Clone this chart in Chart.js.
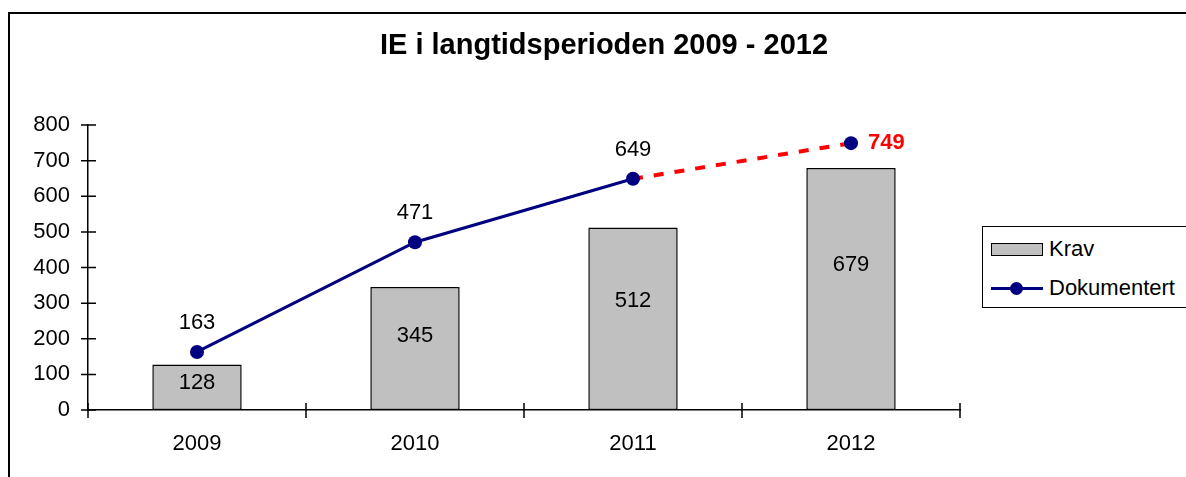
<!DOCTYPE html>
<html>
<head>
<meta charset="utf-8">
<script src="https://cdn.jsdelivr.net/npm/chart.js@4.4.1/dist/chart.umd.min.js"></script>
<style>
  body { margin: 0; background: #fff; font-family: "Liberation Sans", Arial, sans-serif; }
  .wrap { position: relative; width: 1186px; height: 477px; overflow: hidden; }
  .frame { position: absolute; left: 8px; top: 12px; width: 1300px; height: 600px;
           border-top: 2px solid #000; border-left: 2px solid #000; }
  .title { position: absolute; left: 0; top: 30px; width: 1208px; text-align: center;
           font-size: 29px; line-height: 1; font-weight: bold; color: #000; }
  .legend { position: absolute; left: 982px; top: 226px; width: 260px; height: 80px;
            border: 1.5px solid #000; background: #fff; font-size: 22px; }
  .row { position: absolute; left: 8px; display: flex; align-items: center; }
  .box { width: 50px; height: 11px; background: #c0c0c0; border: 1.5px solid #000; margin-right: 6px; }
  .ln { position: relative; width: 52px; height: 3px; background: #000080; margin-right: 6px; }
  .ln::after { content: ""; position: absolute; left: 19px; top: -5px; width: 13px; height: 13px;
               border-radius: 50%; background: #000080; }
  #c { position: absolute; left: 0; top: 0; }
</style>
</head>
<body>
<div class="wrap">
  <div class="frame"></div>
  <canvas id="c" width="1186" height="477"></canvas>
  <div class="title">IE i langtidsperioden 2009 - 2012</div>
  <div class="legend">
    <div class="row" style="top:9px"><span class="box"></span>Krav</div>
    <div class="row" style="top:48px"><span class="ln"></span>Dokumentert</div>
  </div>
</div>
<script>
// ========================
// DATA
// ========================
const years = ["2009", "2010", "2011", "2012"];
const krav = [128, 345, 512, 679];
const dokumentert = [163, 471, 649, 749];
const yTicks = [0, 100, 200, 300, 400, 500, 600, 700, 800];

const NAVY = "#000080";
const FONT = "'Liberation Sans', Arial, sans-serif";

// ========================
// CROSS TICKS + VALUE LABELS
// ========================
const extras = {
  id: "extras",
  afterDraw(chart) {
    const ctx = chart.ctx;
    const xs = chart.scales.x;
    const ys = chart.scales.y;
    ctx.save();
    ctx.strokeStyle = "#000";
    ctx.lineWidth = 1.5;
    ctx.beginPath();
    yTicks.forEach(v => {
      const y = ys.getPixelForValue(v);
      ctx.moveTo(xs.left - 7, y);
      ctx.lineTo(xs.left + 8, y);
    });
    for (let i = 0; i <= years.length; i++) {
      const x = xs.left + i * xs.width / years.length;
      ctx.moveTo(x, ys.bottom - 7);
      ctx.lineTo(x, ys.bottom + 8);
    }
    ctx.stroke();

    ctx.font = "22px " + FONT;
    ctx.fillStyle = "#000";
    ctx.textAlign = "center";
    ctx.textBaseline = "middle";
    // bars are dataset 1
    chart.getDatasetMeta(1).data.forEach((bar, i) => {
      const y = bar.base - 0.6 * (bar.base - bar.y);
      ctx.fillText(krav[i], bar.x, y);
    });

    // line points are dataset 0
    const pts = chart.getDatasetMeta(0).data;
    pts.forEach((p, i) => {
      if (i === pts.length - 1) {
        ctx.font = "bold 22px " + FONT;
        ctx.fillStyle = "#ff0000";
        ctx.textAlign = "left";
        ctx.fillText(dokumentert[i], p.x + 17, p.y);
      } else {
        ctx.fillText(dokumentert[i], p.x, p.y - 29);
      }
    });
    ctx.restore();
  }
};

const ctx = document.getElementById("c").getContext("2d");
new Chart(ctx, {
  data: {
    labels: years,
    datasets: [
      {
        type: "line",
        label: "Dokumentert",
        data: dokumentert,
        borderColor: NAVY,
        backgroundColor: NAVY,
        borderWidth: 3,
        pointRadius: 7,
        pointBackgroundColor: NAVY,
        pointBorderWidth: 0,
        tension: 0,
        segment: {
          borderColor: c => c.p1DataIndex === years.length - 1 ? "#ff0000" : NAVY,
          borderDash: c => c.p1DataIndex === years.length - 1 ? [10, 11] : [],
          borderWidth: c => c.p1DataIndex === years.length - 1 ? 4 : 3
        },
        order: 0
      },
      {
        type: "bar",
        label: "Krav",
        data: krav,
        backgroundColor: "#c0c0c0",
        borderColor: "#000",
        borderWidth: 1.5,
        borderSkipped: false,
        barPercentage: 0.41,
        categoryPercentage: 1,
        order: 1
      }
    ]
  },
  options: {
    responsive: false,
    animation: false,
    layout: { padding: { left: 0, right: 226, top: 125, bottom: 0 } },
    plugins: {
      legend: { display: false },
      tooltip: { enabled: false },
      title: { display: false }
    },
    scales: {
      x: {
        offset: true,
        grid: { display: false, drawTicks: false },
        border: { display: true, color: "#000", width: 1.5 },
        ticks: { color: "#000", padding: 21, font: { family: FONT, size: 22 } },
        afterFit: s => { s.height = 67; }
      },
      y: {
        min: 0,
        max: 800,
        grid: { display: false, drawTicks: false },
        border: { display: true, color: "#000", width: 1.5 },
        ticks: { stepSize: 100, color: "#000", padding: 18, font: { family: FONT, size: 22 } },
        afterFit: s => { s.width = 88; }
      }
    }
  },
  plugins: [extras]
});
</script>
</body>
</html>
